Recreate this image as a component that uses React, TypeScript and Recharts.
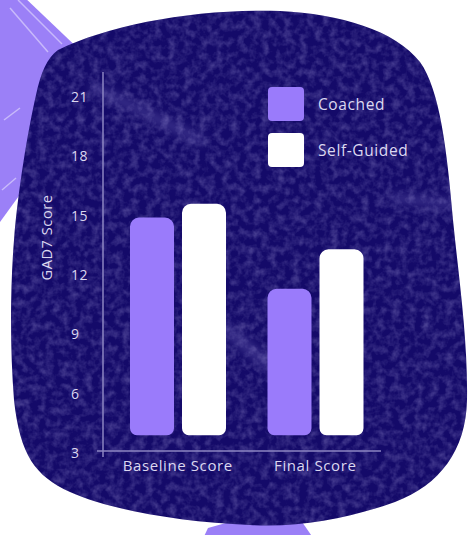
import { Bar, BarChart, Legend, ReferenceLine, XAxis, YAxis } from "recharts";

const categories = ["Baseline Score", "Final Score"];
const coached = [14.9, 11.3];
const selfGuided = [15.6, 13.3];
const yTicks = [3, 6, 9, 12, 15, 18, 21];
// bars sit a little above the baseline instead of touching it
const barFloor = 3.9;

const seriesNames = ["Coached", "Self-Guided"];
const seriesColors = ["#9a7bfb", "#ffffff"];

const FONT = "'Open Sans', sans-serif";
const TEXT = "#dcd8f0";
const AXIS = "#8c86c2";
const BLOB = "#140a69";

const BLOB_PATH =
    "M 58 50 C 110 24, 200 8, 280 11 C 340 14, 395 30, 420 62 C 440 90, 447 150, 453 220 C 459 280, 468 340, 467 400 C 466 450, 440 485, 395 502 C 350 518, 300 528, 250 525 C 180 522, 110 510, 70 492 C 35 476, 20 455, 14 400 C 10 350, 10 290, 14 240 C 18 190, 28 130, 36 95 C 41 72, 47 58, 58 50 Z";

function Backdrop() {
    return (
        <svg width={471} height={535} style={{ position: "absolute", left: 0, top: 0 }}>
            <defs>
                <clipPath id="blobClip">
                    <path d={BLOB_PATH} />
                </clipPath>
                <filter id="grain" x="0" y="0" width="100%" height="100%">
                    <feTurbulence type="fractalNoise" baseFrequency="0.13" numOctaves={3} seed={4} />
                    <feColorMatrix
                        type="matrix"
                        values="0 0 0 0 0.55  0 0 0 0 0.5  0 0 0 0 0.9  0 0 0 1.6 -0.6"
                    />
                </filter>
                <filter id="soft">
                    <feGaussianBlur stdDeviation="4" />
                </filter>
            </defs>

            {/* brush strokes peeking out from behind the blob */}
            <polygon points="0,-5 22,-5 85,55 45,160 0,222" fill="#9b80f7" />
            <g stroke="#ffffff" strokeOpacity={0.45} strokeWidth={1.5}>
                <line x1={18} y1={0} x2={62} y2={44} />
                <line x1={10} y1={8} x2={48} y2={52} />
                <line x1={4} y1={120} x2={20} y2={108} />
                <line x1={2} y1={190} x2={16} y2={178} />
            </g>
            <polygon points="200,545 208,528 240,519 300,519 318,545" fill="#9b80f7" />

            <path d={BLOB_PATH} fill={BLOB} />
            <g clipPath="url(#blobClip)">
                <rect x={0} y={0} width={471} height={535} filter="url(#grain)" opacity={0.35} />
                <g filter="url(#soft)" stroke="#8a82d0" strokeOpacity={0.3} strokeLinecap="round">
                    <line x1={95} y1={88} x2={200} y2={140} strokeWidth={10} />
                    <line x1={395} y1={198} x2={470} y2={206} strokeWidth={9} />
                    <line x1={215} y1={320} x2={275} y2={370} strokeWidth={12} />
                </g>
            </g>
        </svg>
    );
}

const data = categories.map((name, i) => ({
    name,
    coached: coached[i],
    selfGuided: selfGuided[i],
}));

function YTick({ x, y, payload }: any) {
    return (
        <text
            x={x - 32}
            y={y}
            dy="0.35em"
            textAnchor="start"
            fill={TEXT}
            fontSize={14}
            letterSpacing={0.4}
            fontFamily={FONT}
        >
            {payload.value}
        </text>
    );
}

function YTitle({ viewBox }: any) {
    const cx = viewBox.x + 3;
    const cy = viewBox.y + viewBox.height / 2 - 27;
    return (
        <text
            x={cx}
            y={cy}
            transform={`rotate(-90, ${cx}, ${cy})`}
            textAnchor="middle"
            dominantBaseline="central"
            fill={TEXT}
            fontSize={14.5}
            letterSpacing={0.6}
            fontFamily={FONT}
        >
            GAD7 Score
        </text>
    );
}

function LegendBox() {
    return (
        <div style={{ fontFamily: FONT, color: TEXT, fontSize: 15.5, letterSpacing: 0.6 }}>
            {seriesNames.map((name, i) => (
                <div key={name} style={{ display: "flex", alignItems: "center", height: 34, marginBottom: 12 }}>
                    <div
                        style={{
                            width: 36,
                            height: 34,
                            borderRadius: 4,
                            background: seriesColors[i],
                            marginRight: 14,
                        }}
                    />
                    <span>{name}</span>
                </div>
            ))}
        </div>
    );
}

// horizontal base line, slightly overhanging the y axis on the left
function BaseLine(props: any) {
    const { x1, y1, x2 } = props;
    return <line x1={x1 - 6} y1={y1} x2={x2 - 3} y2={y1} stroke={AXIS} strokeWidth={1.5} />;
}

export default function App() {
    return (
        <div style={{ position: "absolute", left: 0, top: 0, width: 471, height: 535, background: "#ffffff" }}>
            <Backdrop />
            <div style={{ position: "absolute", left: 0, top: 0 }}>
                <BarChart
                    width={471}
                    height={535}
                    data={data}
                    margin={{ top: 72, right: 87, bottom: 48, left: 43 }}
                    barGap={8}
                >
                    <XAxis
                        dataKey="name"
                        axisLine={false}
                        tickLine={false}
                        tickSize={0}
                        tickMargin={3}
                        height={30}
                        padding={{ left: 6, right: 0 }}
                        tick={{ fill: TEXT, fontSize: 15, fontFamily: FONT, letterSpacing: 0.6 }}
                        interval={0}
                    />
                    <YAxis
                        width={60}
                        domain={[2.8, 22.26]}
                        allowDataOverflow
                        ticks={yTicks}
                        interval={0}
                        tickLine={false}
                        tickSize={0}
                        tickMargin={0}
                        axisLine={{ stroke: AXIS, strokeWidth: 1.5 }}
                        tick={<YTick />}
                        label={<YTitle />}
                    />
                    <ReferenceLine y={3.1} ifOverflow="visible" shape={<BaseLine />} />
                    <Legend
                        layout="horizontal"
                        verticalAlign="middle"
                        align="center"
                        content={<LegendBox />}
                        wrapperStyle={{ position: "absolute", top: 87, left: 268, width: 170 }}
                    />
                    <Bar
                        dataKey={(d: any) => [barFloor, d.coached]}
                        name={seriesNames[0]}
                        fill={seriesColors[0]}
                        barSize={44}
                        radius={[9, 9, 7, 7]}
                        isAnimationActive={false}
                    />
                    <Bar
                        dataKey={(d: any) => [barFloor, d.selfGuided]}
                        name={seriesNames[1]}
                        fill={seriesColors[1]}
                        barSize={44}
                        radius={[9, 9, 7, 7]}
                        isAnimationActive={false}
                    />
                </BarChart>
            </div>
        </div>
    );
}
